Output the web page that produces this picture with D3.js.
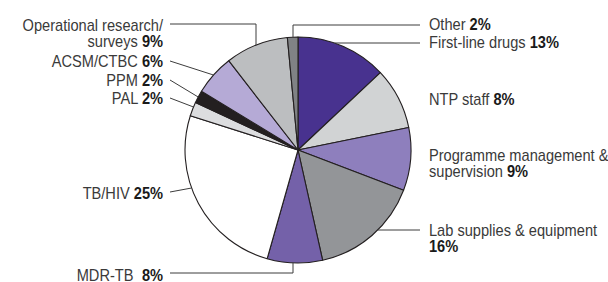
<!DOCTYPE html>
<html>
<head>
<meta charset="utf-8">
<script src="https://cdn.jsdelivr.net/npm/d3@7"></script>
<style>
  body { margin: 0; background: #fff; }
  svg { display: block; }
</style>
</head>
<body>
<div id="chart"></div>
<script>
// slices clockwise from 12 o'clock
const categories = ["First-line drugs", "NTP staff", "Programme management & supervision", "Lab supplies & equipment", "MDR-TB", "TB/HIV", "PAL", "PPM", "ACSM/CTBC", "Operational research/ surveys", "Other"];
const shares = [13, 8.8, 9, 15.7, 7.9, 25.5, 2, 1.8, 5.8, 9, 1.5];
const pctLabels = ["13%", "8%", "9%", "16%", "8%", "25%", "2%", "2%", "6%", "9%", "2%"];
const colors = ["#48328f", "#d1d3d4", "#8e7fbd", "#939598", "#7461a9", "#ffffff", "#dcdddf", "#231f20", "#b5aad6", "#bcbec0", "#808285"];

const width = 608, height = 282;
const cx = 298, cy = 150, r = 113;
const font = "'Liberation Sans', Arial, sans-serif";
const fs = 16.8;
const squeeze = 0.87; // fake a condensed face

// text lines per label (last line gets the bold pct) + leader routing
const labelLayout = [
  { side: "r", lines: ["First-line drugs"], y: 48, lead: "h", ly: 43 },
  { side: "r", lines: ["NTP staff"], y: 105 },
  { side: "r", lines: ["Programme management &", "supervision"], y: 161 },
  { side: "r", lines: ["Lab supplies & equipment", ""], y: 236, lead: "h", ly: 230 },
  { side: "l", lines: ["MDR-TB"], y: 281, lead: "elbow", ly: 273, ex: 293, gap: 5 },
  { side: "l", lines: ["TB/HIV"], y: 199, lead: "slant", ly: 192, py: 188 },
  { side: "l", lines: ["PAL"], y: 104, lead: "slant", ly: 98, py: 107 },
  { side: "l", lines: ["PPM"], y: 86, lead: "slant", ly: 80, py: 97 },
  { side: "l", lines: ["ACSM/CTBC"], y: 67, lead: "slant", ly: 61, py: 75 },
  { side: "l", lines: ["Operational research/", "surveys"], y: 31, lead: "elbow", ly: 24, ex: 256 },
  { side: "r", lines: ["Other"], y: 30, lead: "elbow", ly: 25, ex: 293 }
];

const svg = d3.select("#chart").append("svg")
  .attr("width", width)
  .attr("height", height)
  .style("font-family", font);

const pie = d3.pie().sort(null).value(d => d)(shares);
const arc = d3.arc().innerRadius(0).outerRadius(r);

const g = svg.append("g").attr("transform", `translate(${cx},${cy})`);
g.selectAll("path")
  .data(pie)
  .join("path")
  .attr("d", arc)
  .attr("fill", (d, i) => colors[i])
  .attr("stroke", "#231f20")
  .attr("stroke-width", 1.1)
  .attr("stroke-linejoin", "round");

// x on circle at a given y, left or right half
const edgeX = (y, side) => cx + (side === "r" ? 1 : -1) * Math.sqrt(r * r - (y - cy) * (y - cy));
const edgeY = (x, top) => cy + (top ? -1 : 1) * Math.sqrt(r * r - (x - cx) * (x - cx));

const lineX = { r: 420, l: 170 };
const textX = { r: 429, l: 163 };

const leaders = svg.append("g")
  .attr("fill", "none")
  .attr("stroke", "#3d3d3d")
  .attr("stroke-width", 1);

labelLayout.forEach((lab, i) => {
  if (lab.lead === "h") {
    leaders.append("path").attr("d", `M${edgeX(lab.ly, lab.side)},${lab.ly}H${lineX[lab.side]}`);
  } else if (lab.lead === "slant") {
    leaders.append("path").attr("d", `M${lineX.l},${lab.ly}L${edgeX(lab.py, "l")},${lab.py}`);
  } else if (lab.lead === "elbow") {
    const top = lab.ly < cy;
    leaders.append("path").attr("d", `M${lab.ex},${edgeY(lab.ex, top)}V${lab.ly}H${lineX[lab.side]}`);
  }

  const t = svg.append("g")
    .attr("transform", `translate(${textX[lab.side]},${lab.y}) scale(${squeeze},1)`)
    .append("text")
    .attr("text-anchor", lab.side === "r" ? "start" : "end")
    .attr("font-size", fs)
    .attr("fill", "#3a3a3a");
  lab.lines.forEach((ln, j) => {
    const last = j === lab.lines.length - 1;
    const ts = t.append("tspan")
      .attr("x", 0)
      .attr("dy", j === 0 ? 0 : 16);
    if (ln) ts.append("tspan").text(last ? ln + " " : ln);
    if (last) {
      ts.append("tspan")
        .attr("dx", lab.gap || 0)
        .attr("font-weight", "bold")
        .attr("fill", "#1a1a1a")
        .text(pctLabels[i]);
    }
  });
});
</script>
</body>
</html>
